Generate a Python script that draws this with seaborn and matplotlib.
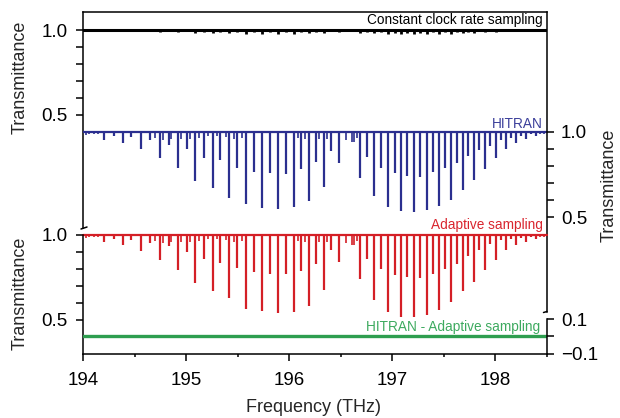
import numpy as np
import matplotlib
matplotlib.use("Agg")
import matplotlib.pyplot as plt
from matplotlib.lines import Line2D
from matplotlib.ticker import FuncFormatter
import seaborn as sns

# ---- line list (THz, transmittance at line centre) ----
line_freq = [194.203, 194.296, 194.386, 194.467, 194.567, 194.654, 194.744, 194.831,
             194.918, 195.005, 195.089, 195.169, 195.256, 195.330, 195.417, 195.498,
             195.578, 195.659, 195.736, 195.813, 195.894, 195.968, 196.042, 196.116,
             196.193, 196.264, 196.335, 196.409, 196.480, 196.689, 196.757, 196.821,
             196.889, 196.957, 197.024, 197.085, 197.147, 197.211, 197.272, 197.333,
             197.395, 197.456, 197.514, 197.572, 197.626, 197.681, 197.736, 197.794,
             197.845, 197.900, 197.952, 198.003, 198.055, 198.106, 198.155, 198.203,
             198.251, 198.299, 198.345, 198.390]
hitran_T = [0.952, 0.975, 0.934, 0.967, 0.895, 0.950, 0.847, 0.924,
            0.789, 0.897, 0.711, 0.843, 0.669, 0.831, 0.614, 0.789,
            0.576, 0.766, 0.552, 0.760, 0.547, 0.754, 0.558, 0.781,
            0.595, 0.824, 0.678, 0.888, 0.818, 0.731, 0.851, 0.620,
            0.789, 0.560, 0.756, 0.537, 0.742, 0.529, 0.734, 0.541,
            0.762, 0.562, 0.789, 0.601, 0.814, 0.657, 0.859, 0.715,
            0.890, 0.779, 0.917, 0.843, 0.948, 0.895, 0.963, 0.930,
            0.975, 0.955, 0.983, 0.973]
adaptive_T = [0.957, 0.975, 0.941, 0.965, 0.904, 0.952, 0.853, 0.930,
              0.794, 0.898, 0.718, 0.859, 0.667, 0.833, 0.627, 0.806,
              0.563, 0.780, 0.551, 0.769, 0.543, 0.769, 0.549, 0.786,
              0.584, 0.830, 0.678, 0.908, 0.839, 0.737, 0.859, 0.614,
              0.796, 0.549, 0.765, 0.520, 0.751, 0.516, 0.745, 0.529,
              0.771, 0.559, 0.800, 0.604, 0.829, 0.667, 0.873, 0.725,
              0.908, 0.790, 0.947, 0.849, 0.967, 0.912, 0.976, 0.937,
              0.980, 0.957, 0.985, 0.975]
# small dips seen on the constant clock rate trace
clock_dip = [0.003, 0.002, 0.004, 0.003, 0.006, 0.004, 0.009, 0.006,
             0.012, 0.008, 0.015, 0.009, 0.018, 0.011, 0.019, 0.012,
             0.022, 0.013, 0.022, 0.013, 0.022, 0.013, 0.021, 0.012,
             0.019, 0.011, 0.016, 0.008, 0.009, 0.015, 0.011, 0.019,
             0.013, 0.022, 0.015, 0.024, 0.015, 0.024, 0.015, 0.024,
             0.014, 0.022, 0.012, 0.021, 0.011, 0.018, 0.009, 0.015,
             0.008, 0.012, 0.006, 0.009, 0.004, 0.006, 0.003, 0.004,
             0.003, 0.003, 0.002, 0.002]
# weak lines (same in both HITRAN and adaptive traces)
weak_freq = [194.026, 194.060, 194.110, 194.145, 194.702, 194.779, 194.857, 194.947,
             195.037, 195.121, 195.208, 195.298, 195.385, 195.465, 195.539, 196.087,
             196.155, 196.290, 196.364, 196.548, 196.612, 196.628, 196.660, 198.430,
             198.470]
weak_T = [0.979, 0.985, 0.983, 0.984, 0.963, 0.953, 0.955, 0.955,
          0.959, 0.960, 0.975, 0.975, 0.969, 0.959, 0.960, 0.960,
          0.958, 0.955, 0.955, 0.950, 0.940, 0.940, 0.962, 0.985,
          0.985]

baseline = 1.0
residual = 0.0
freq_major = [194, 195, 196, 197, 198]
freq_minor = [194.5, 195.5, 196.5, 197.5, 198.5]

black = "#000000"
blue = "#2B2F8F"
red = "#D41F26"
green = "#2E9E4F"

sns.set_theme(style="ticks")
plt.rcParams['font.family'] = ['Liberation Sans', 'DejaVu Sans']

W, H = 620, 418
fig = plt.figure(figsize=(W / 100, H / 100), dpi=100)


def rect(top, bottom):
    # pixel rows of the plot frame -> figure rect
    return [83 / W, 1 - bottom / H, 464 / W, (bottom - top) / H]


ax_clock = fig.add_axes(rect(12, 228))
ax_hit = fig.add_axes(rect(12, 312))
ax_adp = fig.add_axes(rect(234.5, 353.5))
ax_res = fig.add_axes(rect(319, 353.5))

fmt = FuncFormatter(lambda v, _: f"{v:.1f}".replace("-", "\u2212"))
for ax in [ax_clock, ax_hit, ax_adp, ax_res]:
    ax.patch.set_visible(False)
    ax.set_xlim(194, 198.5)
    for s in ax.spines.values():
        s.set_visible(False)
        s.set_linewidth(1.1)
        s.set_color('black')
    ax.tick_params(which='both', direction='out', length=5, width=1.1,
                   colors='black', labelsize=13.5)
    ax.tick_params(which='both', bottom=False, labelbottom=False, left=False,
                   labelleft=False, right=False, labelright=False, top=False)
    ax.yaxis.set_major_formatter(fmt)
    ax.grid(False)

# upper left: constant clock rate sampling
ax_clock.set_ylim(-0.165, 1.106)
ax_clock.spines['left'].set_visible(True)
ax_clock.spines['top'].set_visible(True)
ax_clock.set_yticks([0.5, 1.0])
ax_clock.set_yticks([0.6, 0.7, 0.8, 0.9], minor=True)
ax_clock.tick_params(which='both', left=True, labelleft=True, pad=6)
ax_clock.axhline(baseline, color=black, lw=2.2)
ax_clock.vlines(line_freq, baseline - np.array(clock_dip), baseline, color=black, lw=2.0)

# upper right: HITRAN
ax_hit.set_ylim(-0.0556, 1.699)
ax_hit.spines['right'].set_visible(True)
ax_hit.set_yticks([0.5, 1.0])
ax_hit.set_yticks([0.6, 0.7, 0.8, 0.9], minor=True)
ax_hit.tick_params(which='both', right=True, labelright=True, pad=5)
ax_hit.axhline(baseline, color=blue, lw=1.6)
ax_hit.vlines(line_freq, hitran_T, baseline, color=blue, lw=1.6)
ax_hit.vlines(weak_freq, weak_T, baseline, color=blue, lw=1.2)

# lower left: adaptive sampling
ax_adp.set_ylim(0.304, 1.0)
ax_adp.spines['left'].set_visible(True)
ax_adp.spines['bottom'].set_visible(True)
ax_adp.set_yticks([0.5, 1.0])
ax_adp.set_yticks([0.6, 0.7, 0.8, 0.9], minor=True)
ax_adp.set_xticks(freq_major)
ax_adp.set_xticks(freq_minor, minor=True)
ax_adp.tick_params(which='both', left=True, labelleft=True, bottom=True, labelbottom=True)
ax_adp.tick_params(axis='y', pad=6)
ax_adp.tick_params(axis='x', which='major', pad=8)
ax_adp.tick_params(axis='x', which='minor', length=2.5)
ax_adp.axhline(baseline, color=red, lw=1.6, clip_on=False)
ax_adp.vlines(line_freq, adaptive_T, baseline, color=red, lw=1.6, clip_on=False)
ax_adp.vlines(weak_freq, weak_T, baseline, color=red, lw=1.2, clip_on=False)

# lower right: residual
ax_res.set_ylim(-0.1, 0.1)
ax_res.spines['right'].set_visible(True)
ax_res.set_yticks([-0.1, 0.1])
ax_res.set_yticks([0.0], minor=True)
ax_res.tick_params(which='both', right=True, labelright=True, pad=5)
ax_res.axhline(residual, color=green, lw=2.4)

# axis break stubs
fig.add_artist(Line2D([81 / W, 87 / W], [1 - 229 / H, 1 - 227 / H], color='black', lw=1.1))
fig.add_artist(Line2D([543.5 / W, 547 / W], [1 - 312.5 / H, 1 - 311.5 / H], color='black', lw=1.1))

# trace labels
fig.text(543 / W, 1 - 20 / H, "Constant clock rate sampling", color=black,
         ha='right', va='center', fontsize=9.8)
fig.text(543 / W, 1 - 124 / H, "HITRAN", color="#3B3F9A", ha='right', va='center', fontsize=9.8)
fig.text(543 / W, 1 - 225.5 / H, "Adaptive sampling", color="#D9252E",
         ha='right', va='center', fontsize=9.8)
fig.text(540 / W, 1 - 327 / H, "HITRAN - Adaptive sampling", color="#3DAA5F",
         ha='right', va='center', fontsize=9.8)

# axis titles
fig.text(20 / W, 1 - 77 / H, "Transmittance", rotation=90, ha='center', va='center', fontsize=13)
fig.text(20 / W, 1 - 293 / H, "Transmittance", rotation=90, ha='center', va='center', fontsize=13)
fig.text(609 / W, 1 - 185 / H, "Transmittance", rotation=90, ha='center', va='center', fontsize=13)
fig.text(314 / W, 1 - 408 / H, "Frequency (THz)", ha='center', va='center', fontsize=13)

fig.savefig("out.png", dpi=100)
